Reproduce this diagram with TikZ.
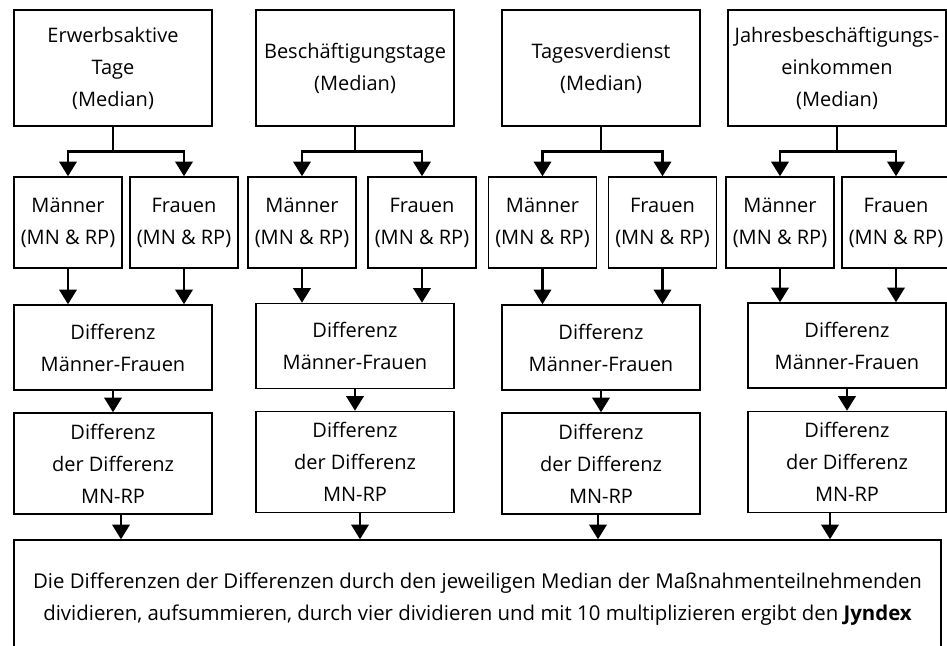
\documentclass[tikz,border=0pt]{standalone}
\usepackage{fontspec}
\setmainfont{Open Sans}
\usetikzlibrary{arrows.meta,calc}

\tikzset{
  box/.style={draw, line width=1.1pt, inner sep=0pt, align=center,
    font=\fontsize{15}{24}\selectfont},
  bigbox/.style={box, minimum width=148.5pt, minimum height=87pt},
  sexbox/.style={box, minimum width=81pt, minimum height=68.25pt},
  diffbox/.style={box, minimum width=148.5pt, minimum height=63.75pt},
  ddbox/.style={box, minimum width=148.5pt, minimum height=75.75pt},
  sumbox/.style={box, minimum width=695.25pt, minimum height=88.5pt,
    font=\fontsize{15.3}{24}\selectfont},
  link/.style={line width=2pt},
  flow/.style={link, -{Triangle[length=11pt,width=13pt]}}
}

\begin{document}
\begin{tikzpicture}[x=0.75pt,y=0.75pt,yscale=-1,xscale=1]
	\useasboundingbox (0,0) rectangle (947,646);

	% Text Node
	\node [bigbox] (top1) at (113,68) {Erwerbsaktive\\Tage\\(Median)};
	\node [bigbox] (top2) at (355,68) {Beschäftigungstage\\(Median)};
	\node [bigbox] (top3) at (601,68) {Tagesverdienst\\(Median)};
	\node [bigbox, minimum width=163.5pt] (top4) at (837,68) {Jahresbeschäftigungs-\\einkommen\\(Median)};

	% Text Node
	\node [sexbox] (m1) at (68,222.5) {Männer\\(MN \& RP)};
	\node [sexbox] (f1) at (184,222.5) {Frauen\\(MN \& RP)};
	\node [sexbox] (m2) at (302,222.5) {Männer\\(MN \& RP)};
	\node [sexbox] (f2) at (422,222.5) {Frauen\\(MN \& RP)};
	\node [sexbox] (m3) at (542.5,222.5) {Männer\\(MN \& RP)};
	\node [sexbox] (f3) at (662.5,222.5) {Frauen\\(MN \& RP)};
	\node [sexbox] (m4) at (780,222.5) {Männer\\(MN \& RP)};
	\node [sexbox] (f4) at (896,222.5) {Frauen\\(MN \& RP)};

	% Text Node
	\node [diffbox] (d1) at (113,347.5) {Differenz\\Männer-Frauen};
	\node [diffbox] (d2) at (355,346) {Differenz\\Männer-Frauen};
	\node [diffbox] (d3) at (601,347.5) {Differenz\\Männer-Frauen};
	\node [diffbox] (d4) at (847,345.5) {Differenz\\Männer-Frauen};

	% Text Node
	\node [ddbox] (dd1) at (113,463.5) {Differenz\\der Differenz\\MN-RP};
	\node [ddbox] (dd2) at (355,462) {Differenz\\der Differenz\\MN-RP};
	\node [ddbox] (dd3) at (601,463.5) {Differenz\\der Differenz\\MN-RP};
	\node [ddbox] (dd4) at (847,462) {Differenz\\der Differenz\\MN-RP};

	% Text Node
	\node [sumbox] (sum) at (477.5,599)
	  {Die Differenzen der Differenzen durch den jeweiligen Median der Maßnahmenteilnehmenden\\
	   dividieren, aufsummieren, durch vier dividieren und mit 10 multiplizieren ergibt den \textbf{Jyndex}};

	% Connection
	\foreach \i in {1,...,4} {
	  \coordinate (b\i) at ($(top\i.south)+(0,25)$);
	  \draw [link] (top\i.south) -- (b\i);
	  \draw [flow] (b\i) -| (m\i.north);
	  \draw [flow] (b\i) -| (f\i.north);
	  \draw [flow] (m\i.south) -- (m\i.south |- d\i.north);
	  \draw [flow] (f\i.south) -- (f\i.south |- d\i.north);
	  \draw [flow] (d\i.south) -- (dd\i.north);
	}

	% Connection
	\draw [flow] ($(dd1.south)+(8,0)$) -- ($(dd1.south |- sum.north)+(8,0)$);
	\draw [flow] ($(dd2.south)+(5,0)$) -- ($(dd2.south |- sum.north)+(5,0)$);
	\draw [flow] ($(dd3.south)+(-3,0)$) -- ($(dd3.south |- sum.north)+(-3,0)$);
	\draw [flow] ($(dd4.south)+(-17,0)$) -- ($(dd4.south |- sum.north)+(-17,0)$);

\end{tikzpicture}
\end{document}
